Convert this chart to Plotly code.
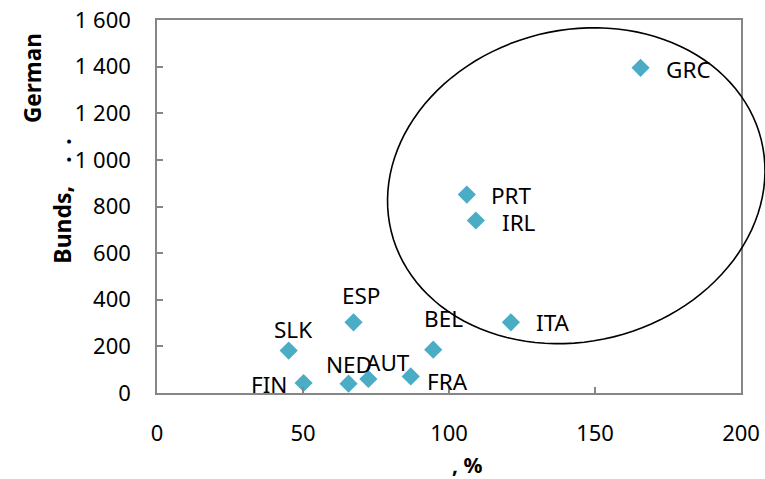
import numpy as np
import plotly.graph_objects as go

# Countries: debt-to-GDP ratio (%) vs spread to German Bunds (b.p.)
countries = ["GRC", "PRT", "IRL", "ITA", "BEL", "ESP", "SLK", "FIN", "NED", "AUT", "FRA"]
debt_pct = [165.6, 106.1, 109.2, 121.2, 94.6, 67.3, 45.1, 50.2, 65.6, 72.4, 86.9]
spread_bp = [1395, 851, 740, 303, 186, 303, 182, 43, 40, 60, 71]

x_ticks = [0, 50, 100, 150, 200]
y_ticks = [0, 200, 400, 600, 800, 1000, 1200, 1400, 1600]

# Label placement offsets (pixels) relative to each marker
label_dx = [48, 45, 43, 42, 10, 7, 4, -35, 0, 20, 37]
label_dy = [-2, -1, -2, 0, 31, 27, 21, -2, 19, 17, -5]

FONT = "Noto Sans"
AXIS_GREY = "#868686"
MARKER_COLOR = "#4BACC6"

fig = go.Figure(
    go.Scatter(
        x=debt_pct,
        y=spread_bp,
        mode="markers",
        marker=dict(symbol="diamond", size=14, color=MARKER_COLOR, line=dict(width=0)),
        cliponaxis=False,
        hoverinfo="skip",
    )
)

annotations = []
for name, xv, yv, dx, dy in zip(countries, debt_pct, spread_bp, label_dx, label_dy):
    annotations.append(dict(
        x=xv, y=yv, xref="x", yref="y", text=name, showarrow=False,
        xanchor="center", yanchor="middle", xshift=dx, yshift=dy,
        font=dict(family=FONT, size=22.5, color="black"),
    ))

# Axis titles (partially rendered glyphs)
annotations += [
    dict(x=-0.212, y=0.845, xref="paper", yref="paper", text="<b>German</b>",
         textangle=-90, showarrow=False, xanchor="center", yanchor="middle",
         font=dict(family=FONT, size=22.5, color="black")),
    dict(x=-0.162, y=0.514, xref="paper", yref="paper",
         text="<b>Bunds,\u2003.\u2002.</b>",
         textangle=-90, showarrow=False, xanchor="center", yanchor="middle",
         font=dict(family=FONT, size=23, color="black")),
    dict(x=0.5316, y=-0.194, xref="paper", yref="paper", text="<b>, %</b>",
         showarrow=False, xanchor="center", yanchor="middle",
         font=dict(family=FONT, size=21, color="black")),
]

# Rotated ellipse around the high-spread group (plot-area fractions)
W_PLOT, H_PLOT = 585.0, 373.0
cx, cy = 0.7179, 0.5557          # centre
a, b = 190.9, 155.7              # semi-axes in pixels
theta = np.deg2rad(13.9)
t = np.linspace(0, 2 * np.pi, 121)
ex = (a * np.cos(t) * np.cos(theta) - b * np.sin(t) * np.sin(theta)) / W_PLOT + cx
ey = (a * np.cos(t) * np.sin(theta) + b * np.sin(t) * np.cos(theta)) / H_PLOT + cy
path = "M " + " L ".join(f"{px:.5f},{py:.5f}" for px, py in zip(ex, ey)) + " Z"

fig.update_layout(
    width=765,
    height=479,
    margin=dict(l=156.5, r=23.5, t=20, b=86, autoexpand=False),
    paper_bgcolor="white",
    plot_bgcolor="white",
    showlegend=False,
    separators=". ",
    font=dict(family=FONT, size=22, color="black"),
    annotations=annotations,
    shapes=[dict(type="path", path=path, xref="paper", yref="paper",
                 line=dict(color="black", width=1.6), fillcolor="rgba(0,0,0,0)")],
)

fig.update_xaxes(
    range=[0, 200], tickvals=x_ticks, ticks="inside", ticklen=6, tickcolor=AXIS_GREY,
    tickwidth=1.5, showline=True, linecolor=AXIS_GREY, linewidth=1.5, mirror=True,
    showgrid=False, zeroline=False, ticklabelstandoff=20, automargin=False,
    tickfont=dict(family=FONT, size=22, color="black"),
)
fig.update_yaxes(
    range=[0, 1600], tickvals=y_ticks, tickformat=",d", ticks="inside", ticklen=6,
    tickcolor=AXIS_GREY, tickwidth=1.5, showline=True, linecolor=AXIS_GREY, linewidth=1.5,
    mirror=True, showgrid=False, zeroline=False, ticklabelstandoff=20, automargin=False,
    tickfont=dict(family=FONT, size=22, color="black"),
)

fig.write_html("out.html")
